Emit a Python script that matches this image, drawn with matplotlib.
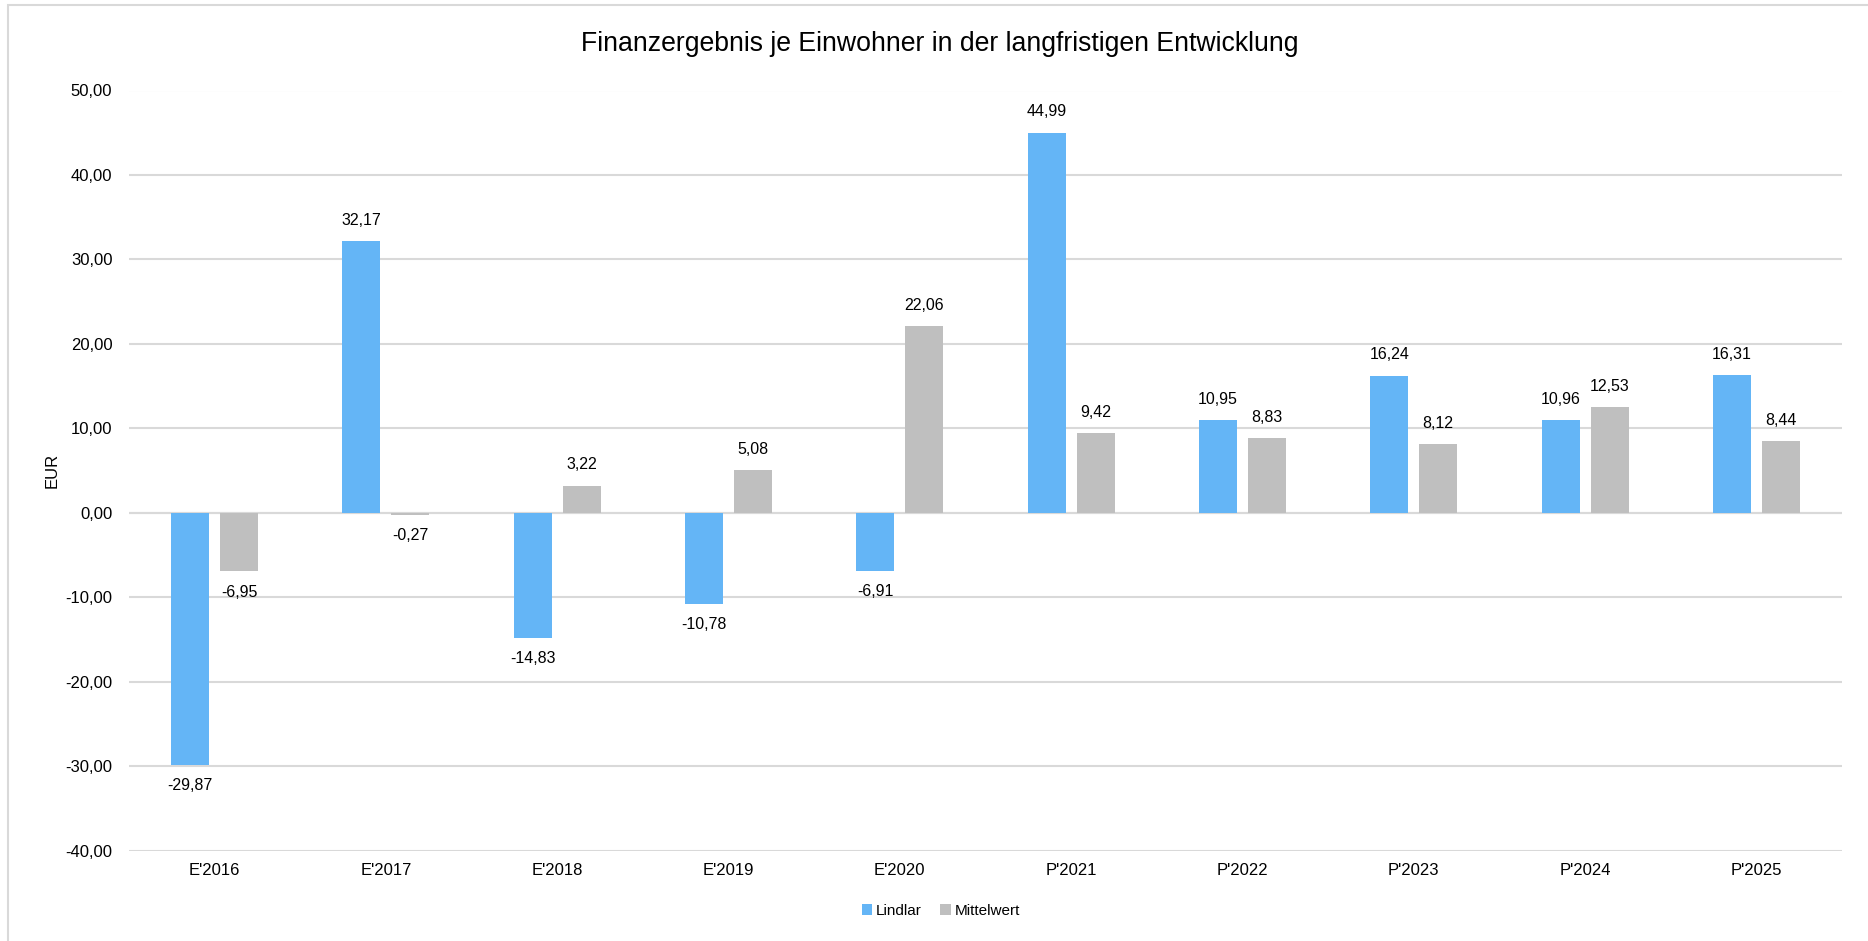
import matplotlib
matplotlib.use("Agg")
import matplotlib.pyplot as plt
from matplotlib.patches import Rectangle
from matplotlib.ticker import FuncFormatter, MultipleLocator
import numpy as np

CATEGORIES = ["E'2016", "E'2017", "E'2018", "E'2019", "E'2020",
              "P'2021", "P'2022", "P'2023", "P'2024", "P'2025"]
LINDLAR = [-29.87, 32.17, -14.83, -10.78, -6.91, 44.99, 10.95, 16.24, 10.96, 16.31]
MITTELWERT = [-6.95, -0.27, 3.22, 5.08, 22.06, 9.42, 8.83, 8.12, 12.53, 8.44]

TITLE = "Finanzergebnis je Einwohner in der langfristigen Entwicklung"
BLUE = "#64B5F6"
GRAY = "#BFBFBF"
GRID = "#D9D9D9"
TEXT = "#000000"


def de_num(v):
    return f"{v:.2f}".replace(".", ",")


plt.rcParams["font.family"] = ["Liberation Sans", "DejaVu Sans"]

W, H = 1868, 941
fig = plt.figure(figsize=(W / 100, H / 100), dpi=100)
fig.patches.append(Rectangle((8 / W, -0.1), 1.2, 1 - 5 / H + 0.1,
                             transform=fig.transFigure, fill=False,
                             edgecolor=GRID, linewidth=1.5))

ax = fig.add_axes([129 / W, 1 - 850.6 / H, (1842 - 129) / W, (850.6 - 90.5) / H])

x = np.arange(len(CATEGORIES))
width = 0.222
off = 0.143
b1 = ax.bar(x - off, LINDLAR, width, color=BLUE, label="Lindlar", zorder=3)
b2 = ax.bar(x + off, MITTELWERT, width, color=GRAY, label="Mittelwert", zorder=3)

for bars, vals in ((b1, LINDLAR), (b2, MITTELWERT)):
    for bar, v in zip(bars, vals):
        dy = 15 if v >= 0 else -15
        ax.annotate(de_num(v), (bar.get_x() + bar.get_width() / 2, v),
                    xytext=(0, dy), textcoords="offset points",
                    ha="center", va="center", fontsize=11.5, color=TEXT)

ax.set_xlim(-0.5, len(CATEGORIES) - 0.5)
ax.set_ylim(-40, 50)
ax.yaxis.set_major_locator(MultipleLocator(10))
ax.yaxis.set_major_formatter(FuncFormatter(lambda v, _: de_num(v)))
ax.set_xticks(x)
ax.set_xticklabels(CATEGORIES)
ax.tick_params(axis="both", length=0, labelsize=12, colors=TEXT)
ax.tick_params(axis="y", pad=12)
ax.tick_params(axis="x", pad=9)
ax.grid(axis="y", color=GRID, linewidth=1.5, zorder=0)
ax.axhline(0, color=GRID, linewidth=1.5, zorder=2)
for s in ax.spines.values():
    s.set_visible(False)
ax.set_axisbelow(True)

fig.text(52 / W, 1 - 470 / H, "EUR", rotation=90, ha="center", va="center",
         fontsize=12, color=TEXT)
fig.text(940 / W, 1 - 44 / H, TITLE, ha="center", va="center",
         fontsize=19.2, color=TEXT)

fig.legend(handles=[b1, b2], loc="center", bbox_to_anchor=(941 / W, 1 - 911 / H),
           ncol=2, frameon=False, fontsize=11, handlelength=0.7, handleheight=0.7,
           handletextpad=0.25, columnspacing=1.2)

fig.savefig("out.png", dpi=100)
